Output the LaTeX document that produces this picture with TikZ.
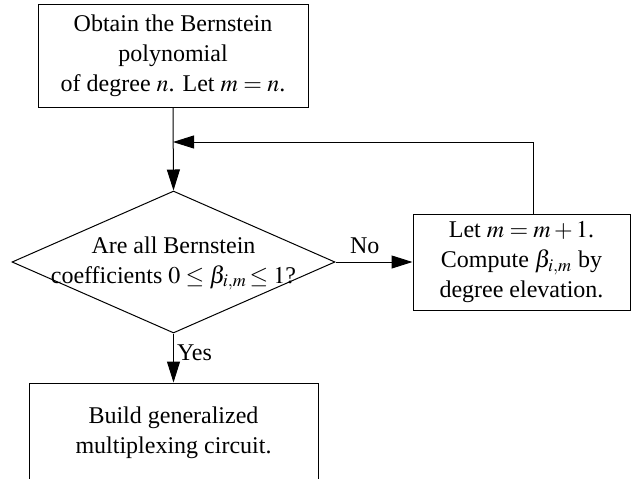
\documentclass[tikz,border=0pt]{standalone}
\usepackage{mathptmx}
\usepackage{fontspec}
\setmainfont{Liberation Serif}
\usetikzlibrary{arrows.meta,shapes.geometric}

% text that may run over the edge of its shape
\newcommand{\overtext}[1]{\makebox[0pt]{\begin{tabular}{@{}c@{}}#1\end{tabular}}}

\begin{document}
\begin{tikzpicture}[x=0.5pt, y=-0.5pt, line width=0.5pt,
  every node/.style={font=\fontsize{12}{15}\selectfont},
  procbox/.style={draw, rectangle, inner sep=0pt, align=center},
  testbox/.style={draw, diamond, inner sep=0pt, aspect=2.27},
  flow/.style={-{Triangle[length=10.5pt,width=6.5pt]}}]

  % page frame (the bottom box runs off the page)
  \clip (0,0) rectangle (631,478);

  %% Boxes
  \node[procbox, minimum width=135pt, minimum height=51.5pt] (start) at (173,55.5)
    {Obtain the Bernstein\\polynomial\\of degree $n$. Let $m = n$.};
  \node[testbox, minimum width=161.5pt, minimum height=71pt] (test) at (173.5,262)
    {\overtext{Are all Bernstein\\coefficients $0 \le \beta_{i,m}\!\le 1$?}};
  \node[procbox, minimum width=108.5pt, minimum height=48pt] (upd) at (521.5,262)
    {Let $m = m + 1$.\\Compute $\beta_{i,m}$ by\\degree elevation.};
  \node[procbox, minimum width=144.5pt, minimum height=50pt] (final) at (173.5,433)
    {Build generalized\\multiplexing circuit.};

  % corner of the feedback loop
  \coordinate (back) at (533,142);

  %% Connectors
  \draw[flow] (start.south) -- (test.north);
  \draw[flow] (test.east) -- node[pos=0.38, above, inner sep=4pt] (no) {No} (upd.west);
  \draw[flow] (upd.north -| back) -- (back) -- (back -| start.south);
  \draw[flow] (test.south) -- node[pos=0.4, right, inner sep=1.5pt] (yes) {Yes} (final.north);

\end{tikzpicture}
\end{document}
